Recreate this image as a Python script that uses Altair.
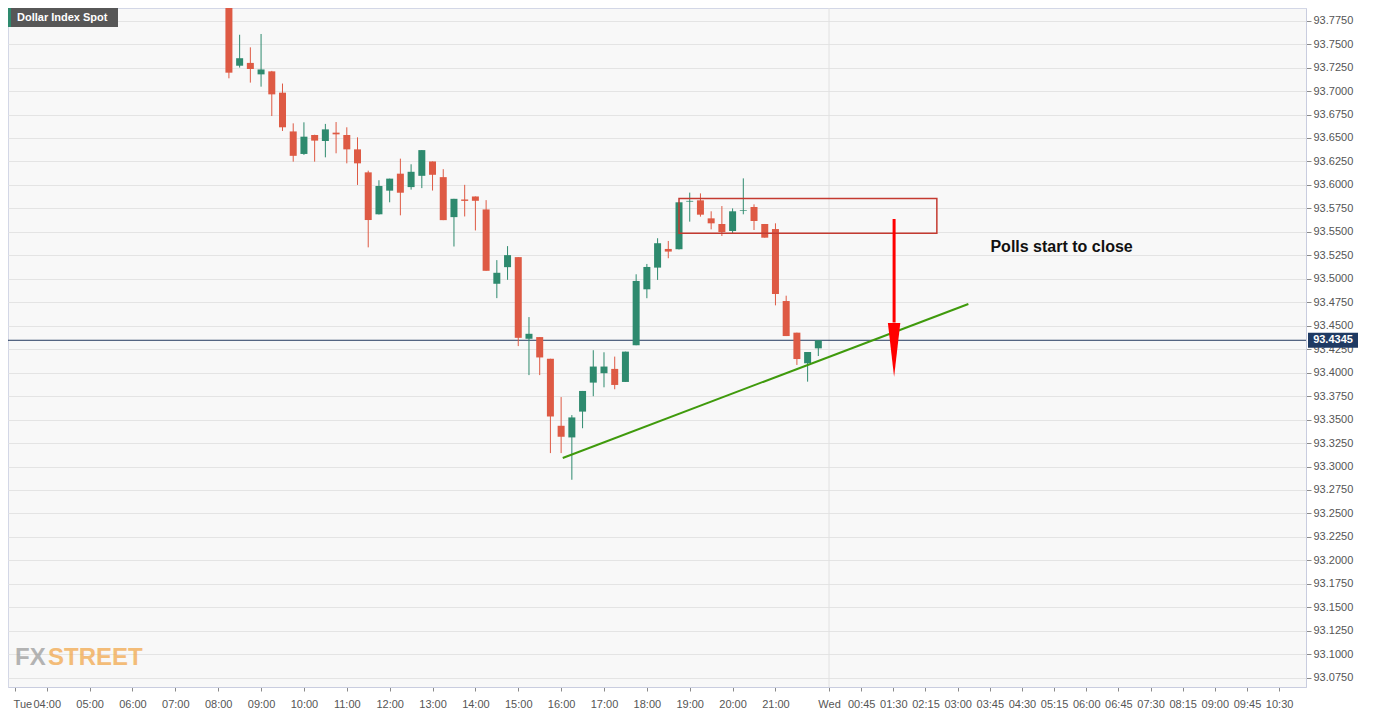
import altair as alt
import pandas as pd

# ---------------- data (15-minute candles, slot index = bar position) ----------------
slots = list(range(17, 73))
opens = [93.830, 93.727, 93.730, 93.7178, 93.721, 93.6983, 93.657, 93.633, 93.6532, 93.6468,
         93.6557, 93.6532, 93.6379, 93.6134, 93.5687, 93.5939, 93.612, 93.5977, 93.6097, 93.625,
         93.6083, 93.5657, 93.5845, 93.5877, 93.5739, 93.4947, 93.5124, 93.5231, 93.4361, 93.4379,
         93.4148, 93.3434, 93.331, 93.3585, 93.3894, 93.3994, 93.404, 93.3901, 93.4292, 93.4888,
         93.5119, 93.5318, 93.5315, 93.5822, 93.5836, 93.5644, 93.5584, 93.5509, 93.5726, 93.5765,
         93.5584, 93.553, 93.4763, 93.4426, 93.410, 93.4259]
highs = [93.840, 93.760, 93.7466, 93.7608, 93.7215, 93.708, 93.6656, 93.6667, 93.6535, 93.665,
         93.667, 93.6614, 93.6507, 93.6152, 93.605, 93.6067, 93.628, 93.622, 93.6371, 93.625,
         93.6168, 93.5852, 93.6001, 93.5877, 93.5838, 93.5199, 93.5348, 93.5231, 93.4592, 93.4379,
         93.4148, 93.374, 93.3548, 93.3805, 93.4239, 93.4217, 93.4171, 93.4224, 93.5048, 93.5158,
         93.5432, 93.5403, 93.5815, 93.5918, 93.591, 93.5719, 93.5775, 93.575, 93.607, 93.5793,
         93.5584, 93.5591, 93.482, 93.4426, 93.422, 93.4345]
lows = [93.7136, 93.725, 93.709, 93.7047, 93.6734, 93.6575, 93.6248, 93.632, 93.6248, 93.6294,
        93.6337, 93.623, 93.600, 93.5335, 93.5685, 93.5815, 93.5676, 93.595, 93.5966, 93.594,
        93.5625, 93.5344, 93.5664, 93.5515, 93.5085, 93.4794, 93.4989, 93.4283, 93.3974, 93.3974,
        93.3143, 93.3143, 93.2859, 93.3408, 93.3749, 93.3844, 93.3823, 93.3901, 93.4292, 93.4793,
        93.4988, 93.5219, 93.5312, 93.5609, 93.5662, 93.5527, 93.5456, 93.5484, 93.5687, 93.552,
        93.5438, 93.4717, 93.439, 93.4082, 93.3904, 93.4177]
closes = [93.7196, 93.735, 93.7235, 93.723, 93.6965, 93.6614, 93.631, 93.6514, 93.6472, 93.6592,
          93.6539, 93.6379, 93.623, 93.5626, 93.5989, 93.6067, 93.5917, 93.614, 93.6371, 93.6108,
          93.5625, 93.5852, 93.583, 93.5831, 93.5085, 93.5064, 93.5252, 93.4371, 93.4414, 93.4162,
          93.3533, 93.3317, 93.3523, 93.3805, 93.4065, 93.4065, 93.3869, 93.4224, 93.4977, 93.5126,
          93.5379, 93.529, 93.5815, 93.5830, 93.5683, 93.5591, 93.5498, 93.5719, 93.5733, 93.5616,
          93.5438, 93.4838, 93.439, 93.4145, 93.422, 93.4345]

last_price = 93.4345

# x axis ticks (slot positions) and their labels
x_tick_slots = [-3, 0, 4, 8, 12, 16, 20, 24, 28, 32, 36, 40, 44, 48, 52, 56, 60, 64, 68,
                73, 76, 79, 82, 85, 88, 91, 94, 97, 100, 103, 106, 109, 112, 115]
x_tick_labels = ["Tue", "04:00", "05:00", "06:00", "07:00", "08:00", "09:00", "10:00", "11:00",
                 "12:00", "13:00", "14:00", "15:00", "16:00", "17:00", "18:00", "19:00", "20:00",
                 "21:00", "Wed", "00:45", "01:30", "02:15", "03:00", "03:45", "04:30", "05:15",
                 "06:00", "06:45", "07:30", "08:15", "09:00", "09:45", "10:30"]
y_tick_values = [93.075, 93.100, 93.125, 93.150, 93.175, 93.200, 93.225, 93.250, 93.275, 93.300,
                 93.325, 93.350, 93.375, 93.400, 93.425, 93.450, 93.475, 93.500, 93.525, 93.550,
                 93.575, 93.600, 93.625, 93.650, 93.675, 93.700, 93.725, 93.750, 93.775]

# annotations
box_slots = [59.0, 83.06]
box_prices = [93.5484, 93.5855]
trend_slots = [48.15, 86.0]
trend_prices = [93.3091, 93.4732]
arrow_slot = 79.07
arrow_top, arrow_base, arrow_head_mid = 93.5637, 93.4534, 93.4242
note_slot, note_price, note_text = 88.06, 93.5339, "Polls start to close"
day_break_slot = 73

X_DOMAIN = [-3.148, 117.04]
Y_DOMAIN = [93.0651, 93.7885]
W, H = 1298, 679

UP, DOWN = "#2e8a6e", "#de5a44"
FONT = "Arial, Liberation Sans, sans-serif"

df = pd.DataFrame(dict(slot=slots, open=opens, high=highs, low=lows, close=closes))
df["dir"] = ["up" if c >= o else "down" for o, c in zip(opens, closes)]

xs = alt.Scale(domain=X_DOMAIN, nice=False, zero=False)
ys = alt.Scale(domain=Y_DOMAIN, nice=False, zero=False)
color = alt.Color("dir:N", scale=alt.Scale(domain=["up", "down"], range=[UP, DOWN]), legend=None)

label_expr = ("[" + ",".join(f"'{l}'" for l in x_tick_labels) + "][indexof(["
              + ",".join(str(s) for s in x_tick_slots) + "], datum.value)]")
first_tick_test = f"datum.value == {x_tick_slots[0]}"

x_axis = alt.Axis(values=x_tick_slots, labelExpr=label_expr, grid=False, tickSize=4,
                  tickColor="#8a8a8a", domainColor="#c9cddf", labelColor="#555555",
                  labelFont=FONT, labelFontSize=11, labelPadding=7, labelFlush=False,
                  labelOverlap=False, title=None,
                  labelAlign={"condition": {"test": first_tick_test, "value": "left"}, "value": "center"},
                  labelOffset={"condition": {"test": first_tick_test, "value": -1.5}, "value": 0})
y_axis = alt.Axis(orient="right", values=y_tick_values, format=".4f", grid=True,
                  gridColor="#e4e4e4", tickSize=5, tickColor="#8a8a8a", domainColor="#c9cddf",
                  labelColor="#555555", labelFont=FONT, labelFontSize=11, labelPadding=2,
                  labelOverlap=False, labelFlush=False, title=None)


def X(field):
    return alt.X(field, type="quantitative", scale=xs, axis=x_axis)


def Y(field):
    return alt.Y(field, type="quantitative", scale=ys, axis=y_axis)


one = pd.DataFrame({"a": [0]})

axes = alt.Chart(pd.DataFrame({"slot": [0], "p": [93.5]})).mark_point(opacity=0).encode(
    x=X("slot"), y=Y("p"))

daybreak = alt.Chart(pd.DataFrame({"slot": [day_break_slot]})).mark_rule(
    color="#e2e2e2", strokeWidth=1).encode(x=X("slot"))

wicks = alt.Chart(df).mark_rule(strokeWidth=1, clip=True).encode(
    x=X("slot"), y=Y("low"), y2="high:Q", color=color)

bodies = alt.Chart(df).mark_bar(size=7, clip=True, opacity=1).encode(
    x=X("slot"), y=Y("open"), y2="close:Q", color=color)

box = alt.Chart(pd.DataFrame({"x1": [box_slots[0]], "x2": [box_slots[1]],
                              "y1": [box_prices[0]], "y2": [box_prices[1]]})).mark_rect(
    fillOpacity=0, stroke="#c43a30", strokeWidth=1.5).encode(
    x=X("x1"), x2="x2:Q", y=Y("y1"), y2="y2:Q")

trend = alt.Chart(pd.DataFrame({"slot": trend_slots, "p": trend_prices})).mark_line(
    color="#3f9a0c", strokeWidth=2).encode(x=X("slot"), y=Y("p"))

price_line = alt.Chart(pd.DataFrame({"p": [last_price]})).mark_rule(
    color="#22385e", strokeWidth=1).encode(y=Y("p"))

arrow_line = alt.Chart(pd.DataFrame({"slot": [arrow_slot], "t": [arrow_top], "b": [arrow_base]})).mark_rule(
    color="#ff0000", strokeWidth=3).encode(x=X("slot"), y=Y("t"), y2="b:Q")

arrow_head = alt.Chart(pd.DataFrame({"slot": [arrow_slot], "p": [arrow_head_mid]})).mark_point(
    shape="M -0.23 -1 L 0.23 -1 L 0 1 Z", size=2916, filled=True, color="#ff0000", opacity=1,
    strokeWidth=0).encode(x=X("slot"), y=Y("p"))

note = alt.Chart(pd.DataFrame({"slot": [note_slot], "p": [note_price], "t": [note_text]})).mark_text(
    align="left", baseline="middle", fontSize=16, fontWeight="bold", font=FONT, color="#111111").encode(
    x=X("slot"), y=Y("p"), text="t:N")

price_tag = alt.Chart(pd.DataFrame({"p": [last_price]})).mark_point(
    shape="M -1 -0.3 L 1 -0.3 L 1 0.3 L -1 0.3 Z", size=2500, filled=True, color="#1f3a63",
    opacity=1, strokeWidth=0).encode(x=alt.value(1325), y=Y("p"))

price_tag_text = alt.Chart(pd.DataFrame({"p": [last_price], "t": [f"{last_price:.4f}"]})).mark_text(
    align="center", baseline="middle", fontSize=11, fontWeight="bold", font=FONT, color="white").encode(
    x=alt.value(1325), y=Y("p"), text="t:N")

badge = alt.Chart(one).mark_rect(color="#575757").encode(
    x=alt.value(0), x2=alt.value(110), y=alt.value(0), y2=alt.value(19))
badge_stripe = alt.Chart(one).mark_rect(color="#2e8a6e").encode(
    x=alt.value(0), x2=alt.value(3), y=alt.value(0), y2=alt.value(19))
badge_text = alt.Chart(one).mark_text(
    align="left", baseline="middle", fontSize=11, fontWeight="bold", font=FONT,
    color="white", text="Dollar Index Spot").encode(x=alt.value(9), y=alt.value(9.5))

logo_fx = alt.Chart(one).mark_text(
    align="left", baseline="alphabetic", fontSize=24, fontWeight="bold",
    font=FONT, color="#9c9c9c", opacity=0.75, text="FX").encode(x=alt.value(7), y=alt.value(657))
logo_street = alt.Chart(one).mark_text(
    align="left", baseline="alphabetic", fontSize=24, fontWeight="bold",
    font=FONT, color="#f2a94e", opacity=0.75, text="STREET").encode(x=alt.value(40), y=alt.value(657))

chart = alt.layer(
    axes, daybreak, price_line, wicks, bodies, box, trend, arrow_line, arrow_head, note,
    price_tag, price_tag_text, badge, badge_stripe, badge_text, logo_fx, logo_street
).properties(
    width=W, height=H,
    autosize=alt.AutoSizeParams(type="none"),
    padding={"left": 0, "top": 0, "right": 62, "bottom": 24},
    background="white",
).configure_view(
    fill="#f8f8f8", stroke="#d3d7e6", strokeWidth=1
)

chart.save("out.html", embed_options={"renderer": "svg", "actions": False})
